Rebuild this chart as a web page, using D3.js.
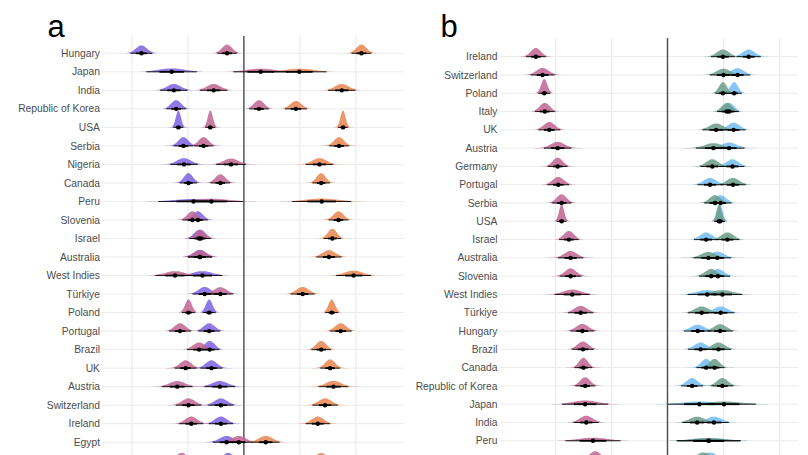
<!DOCTYPE html>
<html>
<head>
<meta charset="utf-8">
<script src="https://cdn.jsdelivr.net/npm/d3@7"></script>
<style>
html,body{margin:0;padding:0;background:#fff;}
svg{display:block;}
</style>
</head>
<body>
<svg id="chart" width="808" height="455"></svg>
<script>
// ---------- Panel a data ----------
const countriesA = ["Hungary","Japan","India","Republic of Korea","USA","Serbia","Nigeria","Canada","Peru","Slovenia","Israel","Australia","West Indies","Türkiye","Poland","Portugal","Brazil","UK","Austria","Switzerland","Ireland","Egypt","Germany"];
const purpleMeanA = [-1.83,-1.29,-1.25,-1.21,-1.17,-1.08,-1.07,-0.99,-0.90,-0.82,-0.80,-0.79,-0.74,-0.70,-0.62,-0.62,-0.61,-0.58,-0.43,-0.41,-0.41,-0.31,-0.28];
const purpleSdA   = [0.10,0.23,0.125,0.09,0.045,0.09,0.125,0.08,0.32,0.09,0.09,0.11,0.18,0.11,0.06,0.10,0.09,0.10,0.14,0.115,0.11,0.125,0.10];
const mauveMeanA  = [-0.30,0.30,-0.54,0.27,-0.60,-0.72,-0.23,-0.42,-0.58,-0.92,-0.77,-0.78,-1.23,-0.42,-0.99,-1.14,-0.80,-1.04,-1.19,-0.99,-0.94,-0.09,-1.11];
const mauveSdA    = [0.09,0.25,0.125,0.09,0.045,0.09,0.135,0.09,0.29,0.09,0.09,0.11,0.18,0.115,0.06,0.10,0.11,0.10,0.14,0.115,0.11,0.125,0.10];
const orangeMeanA = [2.10,0.99,1.75,0.93,1.77,1.70,1.35,1.38,1.39,1.69,1.58,1.52,1.96,1.05,1.57,1.73,1.38,1.54,1.60,1.45,1.32,0.39,1.38];
const orangeSdA   = [0.09,0.25,0.125,0.10,0.045,0.09,0.125,0.08,0.27,0.09,0.08,0.115,0.16,0.11,0.06,0.10,0.09,0.09,0.135,0.115,0.11,0.125,0.10];

// ---------- Panel b data ----------
const countriesB = ["Ireland","Switzerland","Poland","Italy","UK","Austria","Germany","Portugal","Serbia","USA","Israel","Australia","Slovenia","West Indies","Türkiye","Hungary","Brazil","Canada","Republic of Korea","Japan","India","Peru","Nigeria"];
const mauveMeanB  = [-2.35,-2.23,-2.20,-2.19,-2.11,-1.96,-1.96,-1.95,-1.89,-1.89,-1.76,-1.73,-1.73,-1.70,-1.55,-1.52,-1.51,-1.50,-1.47,-1.47,-1.45,-1.33,-1.29];
const mauveSdB    = [0.09,0.11,0.055,0.09,0.10,0.125,0.09,0.10,0.09,0.045,0.09,0.115,0.10,0.16,0.115,0.11,0.10,0.08,0.09,0.21,0.115,0.25,0.10];
const blueMeanB   = [1.45,1.25,1.19,1.10,1.18,1.10,1.16,0.76,0.95,0.94,0.69,0.89,0.90,0.71,0.95,0.54,0.59,0.69,0.44,0.57,0.83,0.74,0.76];
const blueSdB     = [0.11,0.115,0.07,0.09,0.11,0.14,0.11,0.115,0.10,0.045,0.11,0.125,0.11,0.18,0.125,0.125,0.115,0.09,0.10,0.29,0.135,0.29,0.12];
const tealMeanB   = [0.99,1.00,0.99,1.06,0.87,0.82,0.80,1.17,0.85,0.92,1.07,0.73,0.78,0.98,0.61,0.94,0.91,0.84,0.98,1.01,0.53,0.73,0.64];
const tealSdB     = [0.11,0.125,0.07,0.09,0.125,0.16,0.11,0.115,0.10,0.045,0.11,0.135,0.11,0.18,0.125,0.115,0.115,0.09,0.10,0.29,0.135,0.29,0.12];

const gridTicks = [-2,-1,1,2];

// ---------- colours ----------
const colPurple = "#7c62e2";
const colMauve  = "#bf6490";
const colOrange = "#e98550";
const colTeal   = "#6a9c88";
const colBlue   = "#72bcf2";

const W = 808, H = 455;
const svg = d3.select("#chart");
const K = 44;         // peak height * sd (px^2): equal-area slabs
const maxH = 17;

function drawPanel(opts) {
  const g = svg.append("g");
  const x = d3.scaleLinear().domain(opts.domain).range(opts.range);
  const y = d3.scalePoint().domain(opts.countries).range(opts.yRange);

  // vertical gridlines
  g.selectAll("line.vg").data(gridTicks).join("line")
    .attr("x1", d => x(d)).attr("x2", d => x(d))
    .attr("y1", opts.top).attr("y2", H)
    .attr("stroke", "#e8e8e8").attr("stroke-width", 1);
  // horizontal row lines
  g.selectAll("line.hg").data(opts.countries).join("line")
    .attr("x1", opts.range[0] + opts.lineStartPad).attr("x2", opts.range[1])
    .attr("y1", d => y(d)).attr("y2", d => y(d))
    .attr("stroke", "#ebebeb").attr("stroke-width", 1);
  // zero line
  g.append("line")
    .attr("x1", x(0)).attr("x2", x(0))
    .attr("y1", opts.top).attr("y2", H)
    .attr("stroke", "#4a4a4a").attr("stroke-width", 1.4);

  // labels (only rows whose label lies inside the picture)
  g.selectAll("text.lab").data(opts.countries.filter(c => y(c) < H - 8)).join("text")
    .attr("x", opts.labelX).attr("y", d => y(d))
    .attr("dy", "0.35em")
    .attr("text-anchor", "end")
    .attr("font-family", "'Liberation Sans', Arial, Helvetica, sans-serif")
    .attr("font-size", 10.3)
    .attr("fill", "#4d4d4d")
    .text(d => d);

  // panel letter
  svg.append("text")
    .attr("x", opts.letterX).attr("y", 37)
    .attr("font-family", "'Liberation Sans', Arial, Helvetica, sans-serif")
    .attr("font-size", 31)
    .attr("fill", "#000")
    .text(opts.letter);

  // build records
  const recs = [];
  opts.series.forEach(s => {
    opts.countries.forEach((c, i) => {
      recs.push({country: c, mean: s.mean[i], sd: s.sd[i], color: s.color});
    });
  });

  const slabG = g.append("g");
  recs.forEach(r => {
    const sdPx = x(r.mean + r.sd) - x(r.mean);
    const h = Math.min(maxH, K / sdPx);
    const base = y(r.country);
    const pts = d3.range(-4, 4.001, 0.1).map(z => ({v: r.mean + z * r.sd, z}));
    const area = d3.area()
      .x(d => x(d.v))
      .y0(base)
      .y1(d => base - h * Math.exp(-d.z * d.z / 2))
      .curve(d3.curveBasis);
    slabG.append("path")
      .attr("d", area(pts))
      .attr("fill", r.color)
      .attr("fill-opacity", 0.85);
  });

  const intG = g.append("g");
  recs.forEach(r => {
    const base = y(r.country);
    intG.append("line")
      .attr("x1", x(r.mean - 1.96 * r.sd)).attr("x2", x(r.mean + 1.96 * r.sd))
      .attr("y1", base).attr("y2", base)
      .attr("stroke", "#000").attr("stroke-width", 0.9);
    intG.append("line")
      .attr("x1", x(r.mean - 0.95 * r.sd)).attr("x2", x(r.mean + 0.95 * r.sd))
      .attr("y1", base).attr("y2", base)
      .attr("stroke", "#000").attr("stroke-width", 1.8);
    intG.append("circle")
      .attr("cx", x(r.mean)).attr("cy", base)
      .attr("r", 2.2).attr("fill", "#000");
  });
}

drawPanel({
  letter: "a", letterX: 47.5,
  countries: countriesA,
  domain: [-2.57, 2.86], range: [100, 404],
  yRange: [53.3, 53.3 + 22 * 18.52],
  top: 36, labelX: 100, lineStartPad: 2,
  series: [
    {mean: purpleMeanA, sd: purpleSdA, color: colPurple},
    {mean: mauveMeanA,  sd: mauveSdA,  color: colMauve},
    {mean: orangeMeanA, sd: orangeSdA, color: colOrange}
  ]
});

drawPanel({
  letter: "b", letterX: 440.5,
  countries: countriesB,
  domain: [-2.99, 2.33], range: [500, 798],
  yRange: [56.7, 56.7 + 22 * 18.29],
  top: 38, labelX: 497.5, lineStartPad: 0,
  series: [
    {mean: mauveMeanB, sd: mauveSdB, color: colMauve},
    {mean: blueMeanB,  sd: blueSdB,  color: colBlue},
    {mean: tealMeanB,  sd: tealSdB,  color: colTeal}
  ]
});
</script>
</body>
</html>
